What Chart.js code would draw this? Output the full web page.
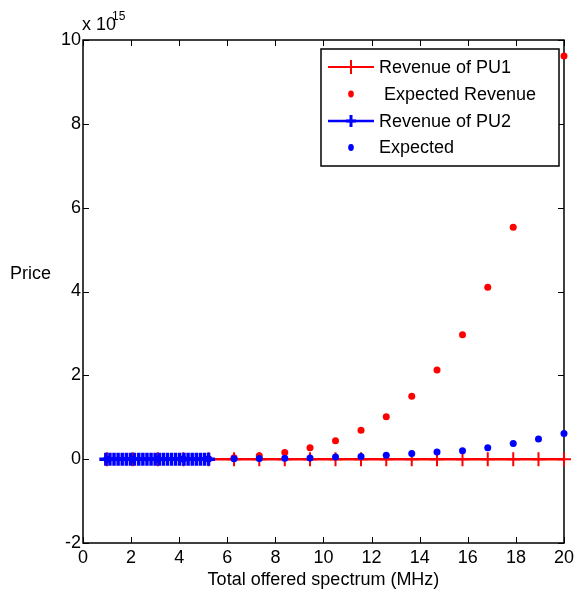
<!DOCTYPE html>
<html>
<head>
<meta charset="utf-8">
<script src="https://cdn.jsdelivr.net/npm/chart.js@4/dist/chart.umd.min.js"></script>
<style>
  html, body { margin: 0; padding: 0; background: #fff; }
  #wrap { width: 578px; height: 596px; position: relative; }
</style>
</head>
<body>
<div id="wrap"><canvas id="c" width="578" height="596"></canvas></div>
<script>
// ---- data (prices in units of 10^15) ----
const spectrumX = [1.00, 2.06, 3.11, 4.17, 5.22, 6.28, 7.33, 8.39, 9.44, 10.50, 11.56, 12.61, 13.67, 14.72, 15.78, 16.83, 17.89, 18.94, 20.00];
const revenuePU1 = [0, 0, 0, 0, 0, 0, 0, 0, 0, 0, 0, 0, 0, 0, 0, 0, 0, 0, 0];
const expectedRevenue = [0.000, 0.0001, 0.001, 0.004, 0.012, 0.035, 0.08, 0.16, 0.27, 0.44, 0.69, 1.01, 1.50, 2.13, 2.97, 4.10, 5.53, 7.31, 9.62];
const expectedPU2 = [0.000, 0.0005, 0.001, 0.002, 0.005, 0.01, 0.015, 0.02, 0.03, 0.05, 0.065, 0.095, 0.135, 0.17, 0.20, 0.27, 0.375, 0.48, 0.61];
const pu2X = [0.95, 1.12, 1.29, 1.46, 1.63, 1.80, 1.97, 2.14, 2.32, 2.49, 2.66, 2.83, 3.00, 3.17, 3.34, 3.51, 3.68, 3.85, 4.02, 4.20, 4.37, 4.54, 4.71, 4.88, 5.05, 5.22];
const revenuePU2 = [0, 0, 0, 0, 0, 0, 0, 0, 0, 0, 0, 0, 0, 0, 0, 0, 0, 0, 0, 0, 0, 0, 0, 0, 0, 0];
const xTicks = [0, 2, 4, 6, 8, 10, 12, 14, 16, 18, 20];
const yTicks = [-2, 0, 2, 4, 6, 8, 10];
const yExponent = '15';
const legendLabels = ['Revenue of PU1', ' Expected Revenue', 'Revenue of PU2', 'Expected'];
const xTitle = 'Total offered spectrum (MHz)';
const yTitle = 'Price';

const FONT = '"Liberation Sans", Arial, sans-serif';
const RED = '#ff0000', BLUE = '#0000ff';

const pts = (xs, ys) => xs.map((x, i) => ({ x: x, y: ys[i] }));

const decor = {
  id: 'decor',
  beforeDatasetsDraw(chart) {
    const { ctx, chartArea: a, scales } = chart;
    ctx.save();
    ctx.strokeStyle = '#000';
    ctx.lineWidth = 1.5;
    ctx.strokeRect(a.left, a.top, a.right - a.left, a.bottom - a.top);
    ctx.lineWidth = 1;
    const L = 6;
    ctx.beginPath();
    xTicks.forEach(v => {
      const px = Math.round(scales.x.getPixelForValue(v)) + 0.5;
      ctx.moveTo(px, a.bottom); ctx.lineTo(px, a.bottom - L);
      ctx.moveTo(px, a.top); ctx.lineTo(px, a.top + L);
    });
    yTicks.forEach(v => {
      const py = Math.round(scales.y.getPixelForValue(v)) + 0.5;
      ctx.moveTo(a.left, py); ctx.lineTo(a.left + L, py);
      ctx.moveTo(a.right, py); ctx.lineTo(a.right - L, py);
    });
    ctx.stroke();
    ctx.restore();
  },
  afterDraw(chart) {
    const { ctx, chartArea: a } = chart;
    ctx.save();
    ctx.fillStyle = '#000';
    ctx.font = '18px ' + FONT;
    ctx.textBaseline = 'alphabetic';
    ctx.textAlign = 'center';
    ctx.fillText(xTitle, (a.left + a.right) / 2, 585);
    ctx.textAlign = 'left';
    ctx.fillText(yTitle, 10, 279);
    ctx.fillText('x 10', 82, 30);
    ctx.font = '12px ' + FONT;
    ctx.fillText(yExponent, 112, 20);

    // legend
    const bx = 321, by = 49, bw = 238, bh = 117;
    ctx.fillStyle = '#fff';
    ctx.fillRect(bx, by, bw, bh);
    ctx.strokeStyle = '#000';
    ctx.lineWidth = 1.5;
    ctx.strokeRect(bx, by, bw, bh);
    const rows = [67, 94, 121, 147.5];
    const x0 = 328, x1 = 374, xm = 351;
    // PU1
    ctx.strokeStyle = RED; ctx.lineWidth = 2;
    ctx.beginPath(); ctx.moveTo(x0, rows[0]); ctx.lineTo(x1, rows[0]);
    ctx.moveTo(xm, rows[0] - 7); ctx.lineTo(xm, rows[0] + 7); ctx.stroke();
    // expected red
    ctx.fillStyle = RED;
    ctx.beginPath(); ctx.ellipse(xm, rows[1], 2.8, 3.4, 0, 0, Math.PI * 2); ctx.fill();
    // PU2
    ctx.strokeStyle = BLUE; ctx.lineWidth = 2.5;
    ctx.beginPath(); ctx.moveTo(x0, rows[2]); ctx.lineTo(x1, rows[2]); ctx.stroke();
    ctx.lineWidth = 3;
    ctx.beginPath(); ctx.moveTo(xm, rows[2] - 6); ctx.lineTo(xm, rows[2] + 6);
    ctx.moveTo(xm - 5, rows[2]); ctx.lineTo(xm + 5, rows[2]); ctx.stroke();
    ctx.fillStyle = BLUE;
    ctx.beginPath(); ctx.ellipse(xm, rows[3], 2.8, 3.4, 0, 0, Math.PI * 2); ctx.fill();
    // texts
    ctx.fillStyle = '#000';
    ctx.font = '18px ' + FONT;
    ctx.textBaseline = 'middle';
    legendLabels.forEach((t, i) => ctx.fillText(t, 379, rows[i] + 1));
    ctx.restore();
  }
};

new Chart(document.getElementById('c'), {
  type: 'scatter',
  data: {
    datasets: [
      { label: 'Expected', data: pts(spectrumX, expectedPU2), order: 1, showLine: false,
        pointStyle: 'circle', pointRadius: 3.5, pointBackgroundColor: BLUE, pointBorderWidth: 0, clip: false },
      { label: 'Revenue of PU2', data: pts(pu2X, revenuePU2), order: 2, showLine: true,
        borderColor: BLUE, borderWidth: 3, pointStyle: 'cross', pointRadius: 6.5,
        pointBorderColor: BLUE, pointBorderWidth: 3.5, clip: false },
      { label: ' Expected Revenue', data: pts(spectrumX, expectedRevenue), order: 3, showLine: false,
        pointStyle: 'circle', pointRadius: 3.5, pointBackgroundColor: RED, pointBorderWidth: 0, clip: false },
      { label: 'Revenue of PU1', data: pts(spectrumX, revenuePU1), order: 4, showLine: true,
        borderColor: RED, borderWidth: 2.5, pointStyle: 'cross', pointRadius: 7,
        pointBorderColor: RED, pointBorderWidth: 2, clip: false }
    ]
  },
  options: {
    responsive: false,
    animation: false,
    events: [],
    layout: { padding: { left: 0, right: 14, top: 40, bottom: 0 } },
    plugins: { legend: { display: false }, tooltip: { enabled: false } },
    scales: {
      x: {
        type: 'linear', min: 0, max: 20,
        afterFit(s) { s.height = 53; },
        afterBuildTicks(s) { s.ticks = xTicks.map(v => ({ value: v })); },
        grid: { display: false, drawTicks: false, tickLength: 0 },
        border: { display: false },
        ticks: { color: '#000', font: { family: FONT, size: 18 }, padding: 4, maxRotation: 0, autoSkip: false }
      },
      y: {
        type: 'linear', min: -2, max: 10,
        afterFit(s) { s.width = 83; },
        afterBuildTicks(s) { s.ticks = yTicks.map(v => ({ value: v })); },
        grid: { display: false, drawTicks: false, tickLength: 0 },
        border: { display: false },
        ticks: { color: '#000', font: { family: FONT, size: 18 }, padding: 2, autoSkip: false }
      }
    }
  },
  plugins: [decor]
});
</script>
</body>
</html>
